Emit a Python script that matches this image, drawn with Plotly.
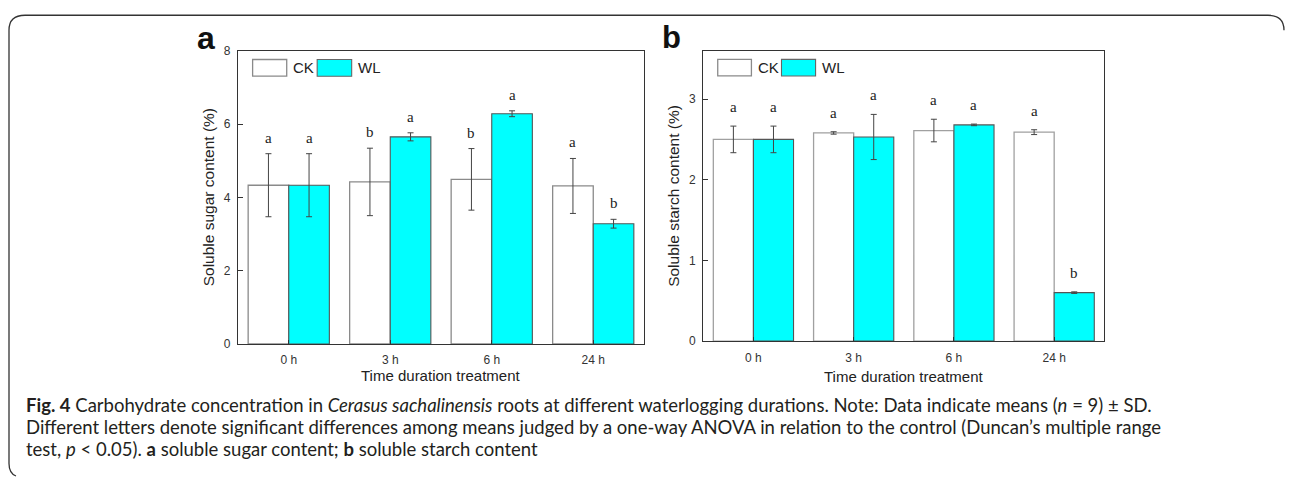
import plotly.graph_objects as go

# ---- data -------------------------------------------------------------
times = ["0 h", "3 h", "6 h", "24 h"]

sugar_ck = [4.33, 4.42, 4.49, 4.31]
sugar_ck_sd = [0.86, 0.92, 0.84, 0.75]
sugar_wl = [4.33, 5.65, 6.28, 3.28]
sugar_wl_sd = [0.86, 0.11, 0.08, 0.12]
sugar_ck_letters = ["a", "b", "b", "a"]
sugar_wl_letters = ["a", "a", "a", "b"]

starch_ck = [2.50, 2.58, 2.61, 2.59]
starch_ck_sd = [0.165, 0.015, 0.14, 0.03]
starch_wl = [2.50, 2.53, 2.68, 0.60]
starch_wl_sd = [0.165, 0.28, 0.01, 0.01]
starch_ck_letters = ["a", "a", "a", "a"]
starch_wl_letters = ["a", "a", "a", "b"]

sugar_ticks = [0, 2, 4, 6, 8]
starch_ticks = [0, 1, 2, 3]

# ---- page geometry helpers -------------------------------------------
W, H = 1292, 483


def px(x):
    return x / W


def py(y):
    return 1 - y / H


SANS = "Liberation Sans, Arial, sans-serif"
SERIF = "Liberation Serif, Times New Roman, serif"
CYAN = "#00FFFF"
TXT = "#333333"

fig = go.Figure()


def add_pair(ck, ck_sd, wl, wl_sd, xa, ya, ck_line):
    fig.add_trace(go.Bar(
        x=times, y=ck, name="CK", xaxis=xa, yaxis=ya,
        marker=dict(color="white", line=dict(color=ck_line, width=1.3)),
        error_y=dict(type="data", array=ck_sd, color="#444", thickness=1, width=3),
        showlegend=False,
    ))
    fig.add_trace(go.Bar(
        x=times, y=wl, name="WL", xaxis=xa, yaxis=ya,
        marker=dict(color=CYAN, line=dict(color="#555", width=1.1)),
        error_y=dict(type="data", array=wl_sd, color="#444", thickness=1, width=3),
        showlegend=False,
    ))


add_pair(sugar_ck, sugar_ck_sd, sugar_wl, sugar_wl_sd, "x", "y", "#8a8a8a")
add_pair(starch_ck, starch_ck_sd, starch_wl, starch_wl_sd, "x2", "y2", "#a0a0a0")

annotations = []
shapes = []


def letters(vals, sds, labs, offset, xref, yref, shift):
    for i, (v, s, t) in enumerate(zip(vals, sds, labs)):
        annotations.append(dict(
            x=i + offset, y=v + s, xref=xref, yref=yref, text=t,
            showarrow=False, yshift=shift, xanchor="center", yanchor="middle",
            font=dict(family=SERIF, size=15, color="#222"),
        ))


letters(sugar_ck, sugar_ck_sd, sugar_ck_letters, -0.2, "x", "y", 16)
letters(sugar_wl, sugar_wl_sd, sugar_wl_letters, 0.2, "x", "y", 16)
letters(starch_ck, starch_ck_sd, starch_ck_letters, -0.2, "x2", "y2", 19)
letters(starch_wl, starch_wl_sd, starch_wl_letters, 0.2, "x2", "y2", 19)


# legend boxes drawn inside each panel
def legend(xref, yref):
    xr, yr = xref + " domain", yref + " domain"
    shapes.append(dict(type="rect", xref=xr, yref=yr, x0=0.036, x1=0.12,
                       y0=0.913, y1=0.97, fillcolor="white",
                       line=dict(color="#8a8a8a", width=1.3)))
    shapes.append(dict(type="rect", xref=xr, yref=yr, x0=0.195, x1=0.28,
                       y0=0.913, y1=0.97, fillcolor=CYAN,
                       line=dict(color="#666", width=1.1)))
    for x, t in ((0.131, "CK"), (0.29, "WL")):
        annotations.append(dict(x=x, y=0.9415, xref=xr, yref=yr, text=t,
                                showarrow=False, xanchor="left", yanchor="middle",
                                font=dict(family=SANS, size=15, color="#222")))


legend("x", "y")
legend("x2", "y2")


def paper_text(x, y, text, size, angle=0, family=SANS, color="#222", xanchor="center"):
    annotations.append(dict(x=px(x), y=py(y), xref="paper", yref="paper", text=text,
                            textangle=angle, showarrow=False,
                            xanchor=xanchor, yanchor="middle",
                            font=dict(family=family, size=size, color=color)))


# panel letters
paper_text(205.5, 32, "<b>a</b>", 32, color="#111")
paper_text(671.5, 31, "<b>b</b>", 31, color="#111")

# axis titles
paper_text(441, 380, "Time duration treatment", 15)
paper_text(903.8, 381, "Time duration treatment", 15)
paper_text(208, 196, "Soluble sugar content (%)", 15.5, angle=-90)
paper_text(674, 194.5, "Soluble starch content (%)", 15.5, angle=-90)

# caption
CAP = "Lato, Open Sans, sans-serif"
caption = [
    "<b>Fig. 4</b> Carbohydrate concentration in <i>Cerasus sachalinensis</i> roots at "
    "different waterlogging durations. Note: Data indicate means (<i>n</i> = 9) ± SD.",
    "Different letters denote significant differences among means judged by a one-way "
    "ANOVA in relation to the control (Duncan’s multiple range",
    "test, <i>p</i> &lt; 0.05). <b>a</b> soluble sugar content; <b>b</b> soluble starch content",
]
for k, line in enumerate(caption):
    paper_text(24, 410 + 22.4 * k, line, 18.5, family=CAP, color="#231f20", xanchor="left")

# rounded outer frame
shapes.append(dict(type="path", xref="paper", yref="paper",
                   path=(f"M {px(1284)},{py(24)} Q {px(1284)},{py(8.5)} {px(1268)},{py(8.5)} "
                         f"L {px(25)},{py(8.5)} Q {px(9)},{py(8.5)} {px(9)},{py(24)} "
                         f"L {px(9)},{py(470)} Q {px(9)},{py(480)} {px(16)},{py(483)}"),
                   line=dict(color="#333", width=1.3)))

axis_common = dict(showline=True, mirror=True, linecolor="#333", linewidth=1.3,
                   showgrid=False, zeroline=False, ticks="inside",
                   tickcolor="#333", tickfont=dict(family=SANS, size=12, color=TXT))

fig.update_layout(
    width=W, height=H,
    margin=dict(l=0, r=0, t=0, b=0),
    paper_bgcolor="white", plot_bgcolor="white",
    barmode="group", bargap=0.2, bargroupgap=0,
    xaxis=dict(domain=[px(238), px(644)], anchor="y", type="category",
               range=[-0.5, 3.5], ticklen=4, ticklabelstandoff=5, **axis_common),
    yaxis=dict(domain=[py(347), py(45)], anchor="x", range=[0, 8],
               tickvals=sugar_ticks, ticklen=5, ticklabelstandoff=4, **axis_common),
    xaxis2=dict(domain=[px(703.3), px(1104.3)], anchor="y2", type="category",
                range=[-0.5, 3.5], ticklen=4, ticklabelstandoff=5, **axis_common),
    yaxis2=dict(domain=[py(344), py(45)], anchor="x2", range=[0, 3.6],
                tickvals=starch_ticks, ticklen=5, ticklabelstandoff=4, **axis_common),
    annotations=annotations,
    shapes=shapes,
)

fig.write_html("out.html")
